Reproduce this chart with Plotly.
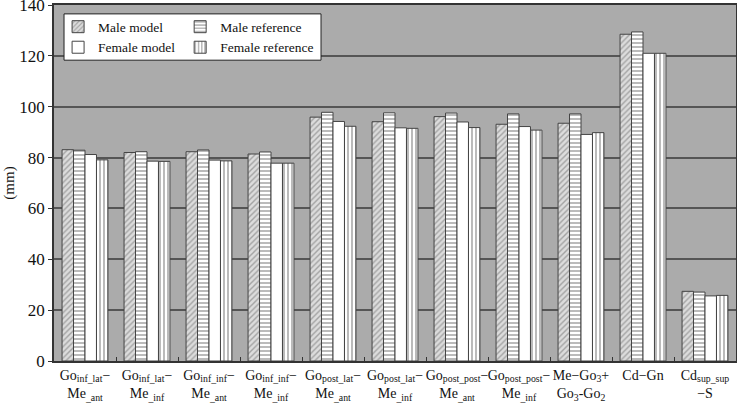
import plotly.graph_objects as go

# categorias (medidas mandibulares)
categorias = [
    "Go<sub>inf_lat</sub>−<br>Me<sub>_ant</sub>",
    "Go<sub>inf_lat</sub>−<br>Me<sub>_inf</sub>",
    "Go<sub>inf_inf</sub>−<br>Me<sub>_ant</sub>",
    "Go<sub>inf_inf</sub>−<br>Me<sub>_inf</sub>",
    "Go<sub>post_lat</sub>−<br>Me<sub>_ant</sub>",
    "Go<sub>post_lat</sub>−<br>Me<sub>_inf</sub>",
    "Go<sub>post_post</sub>−<br>Me<sub>_ant</sub>",
    "Go<sub>post_post</sub>−<br>Me<sub>_inf</sub>",
    "Me−Go<sub>3</sub>+<br>Go<sub>3</sub>-Go<sub>2</sub>",
    "Cd−Gn",
    "Cd<sub>sup_sup</sub><br>−S",
]

male_model = [83.1, 82.0, 82.3, 81.4, 95.9, 94.1, 96.1, 93.1, 93.5, 128.5, 27.4]
male_ref = [82.9, 82.3, 83.0, 82.2, 97.8, 97.6, 97.5, 97.2, 97.2, 129.4, 27.1]
female_model = [81.2, 78.6, 79.0, 77.8, 94.2, 91.7, 94.0, 92.2, 89.1, 121.0, 25.6]
female_ref = [79.1, 78.5, 78.7, 77.8, 92.3, 91.5, 91.8, 90.8, 89.8, 121.0, 25.8]

FONTE = "Liberation Serif, Times New Roman, serif"
COR_LINHA = "#444444"

series = {
    "Male model": (male_model, "/", "#dcdcdc", "#6a6a6a", "legend"),
    "Male reference": (male_ref, "-", "white", "#3a3a3a", "legend2"),
    "Female model": (female_model, "", "white", "white", "legend"),
    "Female reference": (female_ref, "|", "white", "#3a3a3a", "legend2"),
}

fig = go.Figure()
for nome, (valores, forma, bg, fg, leg) in series.items():
    fig.add_trace(
        go.Bar(
            x=categorias,
            y=valores,
            name=nome,
            legend=leg,
            marker=dict(
                color=bg,
                line=dict(color=COR_LINHA, width=1),
                pattern=dict(shape=forma, bgcolor=bg, fgcolor=fg, size=4, solidity=0.35),
            ),
        )
    )

# caixa da legenda
fig.add_shape(
    type="rect",
    xref="paper",
    yref="paper",
    x0=0.0147,
    x1=0.3915,
    y0=0.845,
    y1=0.975,
    fillcolor="white",
    line=dict(color="#222222", width=1),
    layer="above",
)

leg_comum = dict(
    bgcolor="rgba(0,0,0,0)",
    borderwidth=0,
    font=dict(family=FONTE, size=13.5, color="#111111"),
    yanchor="top",
    xanchor="left",
    tracegroupgap=0,
    itemwidth=30,
)

fig.update_layout(
    width=737,
    height=405,
    barmode="group",
    bargap=0.26,
    bargroupgap=0,
    plot_bgcolor="#ababab",
    paper_bgcolor="white",
    margin=dict(l=54, r=1, t=5, b=44),
    font=dict(family=FONTE, size=15, color="#111111"),
    legend=dict(x=0.006, y=0.982, **leg_comum),
    legend2=dict(x=0.185, y=0.982, **leg_comum),
    showlegend=True,
)
fig.update_xaxes(
    showline=True,
    linecolor="#333333",
    linewidth=1.5,
    mirror=True,
    ticks="inside",
    tickson="boundaries",
    ticklen=4,
    tickcolor="#333333",
    showgrid=False,
    tickangle=0,
    automargin=False,
    tickfont=dict(family=FONTE, size=14),
)
fig.update_yaxes(
    range=[0, 140],
    dtick=20,
    showgrid=True,
    gridcolor="#555555",
    gridwidth=1.5,
    showline=True,
    linecolor="#333333",
    linewidth=1.5,
    mirror=True,
    ticks="outside",
    ticklen=4,
    tickcolor="#333333",
    automargin=False,
    ticklabeloverflow="allow",
    tickfont=dict(family=FONTE, size=17),
    title=dict(text="(mm)", font=dict(family=FONTE, size=15), standoff=1),
    zeroline=False,
)

# tira a margem padrão do <body> para a figura ficar no canto
fig.write_html(
    "out.html",
    config={"displayModeBar": False},
    post_script="document.body.style.margin='0';",
)
